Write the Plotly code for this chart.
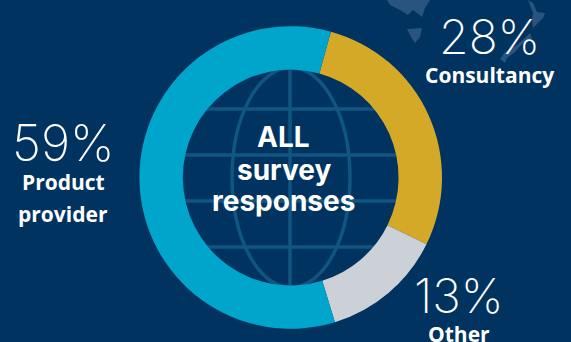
import plotly.graph_objects as go

W, H = 571, 342
BACKGROUND = "#003360"
GRID = "#0f5680"
LAND = "#28547f"

categories = ["Consultancy", "Other", "Product provider"]
shares = [28, 13, 59]
slice_colors = ["#d5a928", "#ccd1d8", "#00a5cb"]
percent_labels = ["28%", "13%", "59%"]
center_lines = ["ALL", "survey", "responses"]

# Ring geometry in pixels
CX, CY, R = 290.7, 177.5, 151.3
HOLE = 0.713
START_ANGLE = 15.4

LIGHT_FONT = "Inter"
BOLD_FONT = "Open Sans"


def px(x):
    return x / W


def py(y):
    return 1 - y / H


def land(points):
    path = "M" + " L".join(f"{px(x):.4f},{py(y):.4f}" for x, y in points) + " Z"
    return dict(type="path", xref="paper", yref="paper", path=path,
                fillcolor=LAND, line_width=0, layer="below")


fig = go.Figure(go.Pie(
    labels=categories,
    values=shares,
    hole=HOLE,
    sort=False,
    direction="clockwise",
    rotation=START_ANGLE,
    marker=dict(colors=slice_colors, line=dict(width=0)),
    textinfo="none",
    hoverinfo="label+percent",
    showlegend=False,
    domain=dict(x=[px(CX - R), px(CX + R)], y=[py(CY + R), py(CY - R)]),
))

shapes = []
# Globe drawn behind the ring
for y in (109, 155, 201, 247):
    shapes.append(dict(type="line", xref="paper", yref="paper", x0=px(CX - 125), x1=px(CX + 125),
                       y0=py(y), y1=py(y), line=dict(color=GRID, width=3.5), layer="below"))
shapes.append(dict(type="line", xref="paper", yref="paper", x0=px(290), x1=px(290),
                   y0=py(CY - 125), y1=py(CY + 125), line=dict(color=GRID, width=3.5), layer="below"))
shapes.append(dict(type="circle", xref="paper", yref="paper", x0=px(232), x1=px(350),
                   y0=py(CY + 110), y1=py(CY - 110), line=dict(color=GRID, width=3.5), layer="below"))

# Faint coastlines in the top right corner
shapes.append(land([(387, 0), (390, 5), (400, 10), (408, 15), (413, 10), (422, 17), (425, 8), (430, 0)]))
shapes.append(land([(407, 29), (422, 28), (420, 37), (415, 43), (411, 37)]))
shapes.append(land([(528, 0), (533, 3), (537, 12), (545, 13), (543, 18), (538, 23), (533, 28), (532, 20), (533, 13)]))
shapes.append(land([(530, 33), (532, 38), (523, 43), (515, 52), (507, 58), (505, 63), (500, 59), (505, 52), (517, 45), (525, 38)]))

annotations = []


def label(x, y, text, size, family, weight=400):
    annotations.append(dict(x=px(x), y=py(y), xref="paper", yref="paper", text=text, showarrow=False,
                            xanchor="center", yanchor="middle", align="center",
                            font=dict(family=family, size=size, color="white", weight=weight)))


label(489, 37, percent_labels[0], 48, LIGHT_FONT, 200)
label(489, 75, "Consultancy", 21, BOLD_FONT, 700)
label(459, 295, percent_labels[1], 48, LIGHT_FONT, 200)
label(459, 334, "Other", 21, BOLD_FONT, 700)
label(63, 143, percent_labels[2], 50, LIGHT_FONT, 200)
label(63, 182, "Product", 21, BOLD_FONT, 700)
label(63, 214, "provider", 21, BOLD_FONT, 700)
for line, y in zip(center_lines, (137, 170, 201)):
    label(283.5, y, line, 28, "Inter", 700)

fig.update_layout(
    width=W,
    height=H,
    margin=dict(l=0, r=0, t=0, b=0),
    paper_bgcolor=BACKGROUND,
    plot_bgcolor=BACKGROUND,
    shapes=shapes,
    annotations=annotations,
)
fig.write_html("out.html", config=dict(displayModeBar=False))
